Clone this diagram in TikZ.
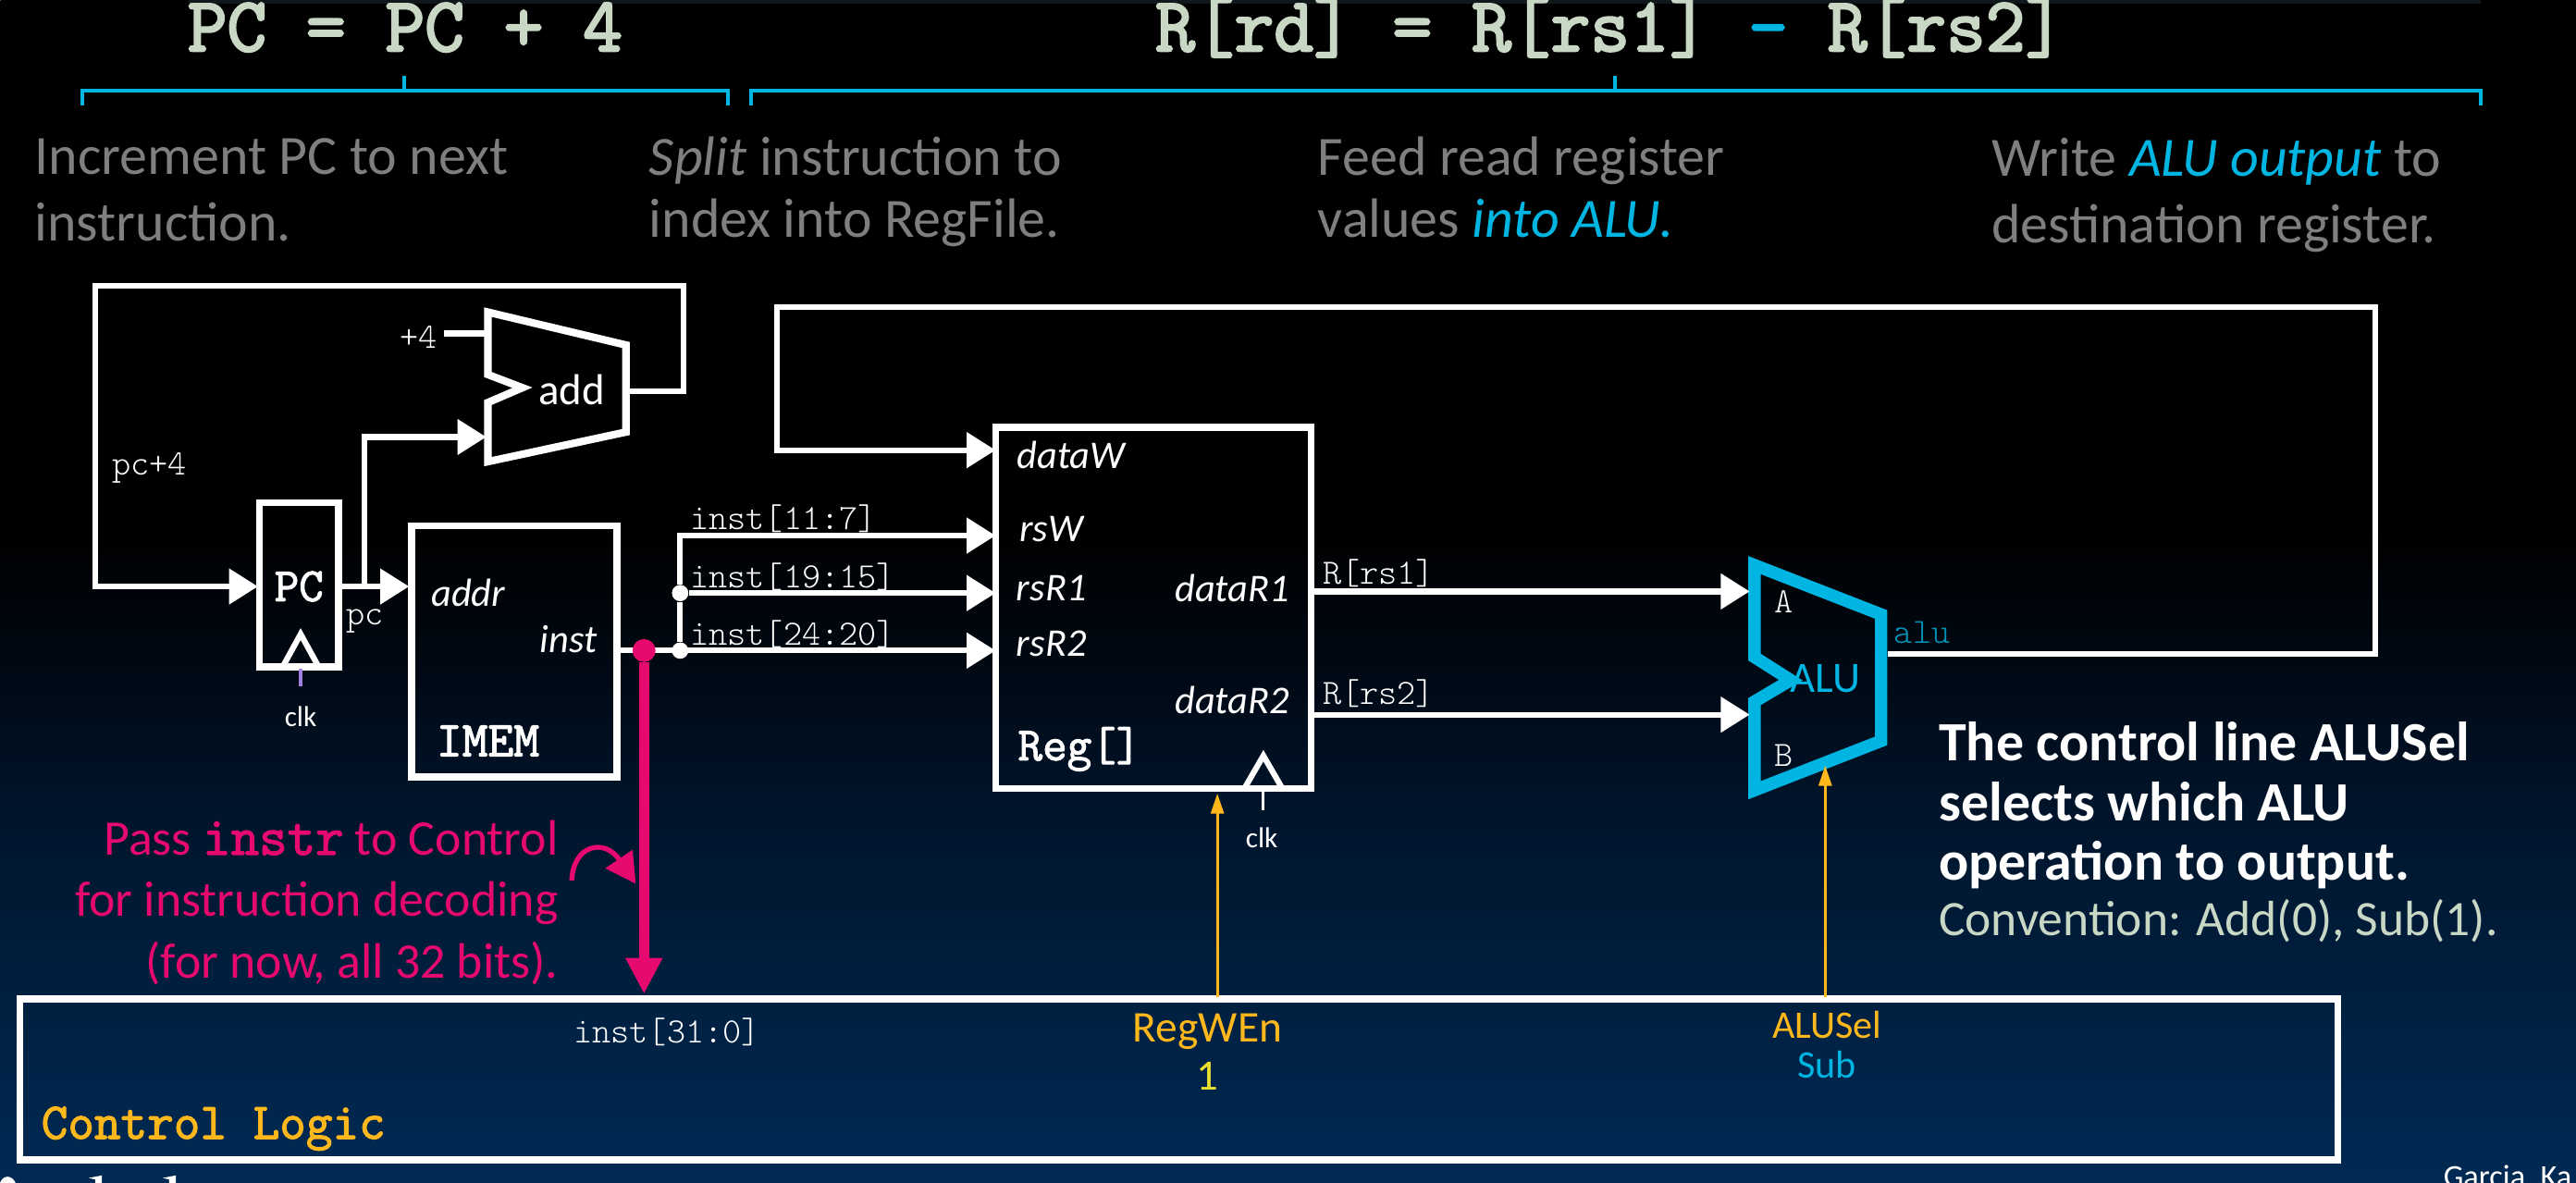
\documentclass[tikz,border=0pt]{standalone}
\usepackage{fontspec}
\setmainfont{Carlito}
\newfontfamily\codelight{Latin Modern Mono Light}
\newfontfamily\codebold[FakeBold=2.2]{Latin Modern Mono}
\newfontfamily\codeheavy[FakeBold=3]{Latin Modern Mono}
\usetikzlibrary{arrows.meta,calc}
\definecolor{wirecyan}{HTML}{00B5E2}
\definecolor{dimcyan}{HTML}{0095B8}
\definecolor{pinkish}{HTML}{E6096E}
\definecolor{goldish}{HTML}{FFB81C}
\definecolor{palegreen}{HTML}{C9D8C5}
\definecolor{midgray}{HTML}{7F7F7F}
\definecolor{navyend}{HTML}{002A54}
\definecolor{navyb}{HTML}{001F3F}
\definecolor{navyc}{HTML}{00152C}
\definecolor{navyd}{HTML}{000812}
\definecolor{clkpurple}{HTML}{A080E0}
\definecolor{topband}{HTML}{11181C}
\pgfdeclareverticalshading{slidebg}{100bp}{
    color(0bp)=(navyend);
    color(25bp)=(navyend);
    color(33.3bp)=(navyb);
    color(40.3bp)=(navyc);
    color(47.2bp)=(navyd);
    color(52.8bp)=(black);
    color(100bp)=(black)
}
\begin{document}
\begin{tikzpicture}[
    x = 0.02cm, y = -0.02cm,
    wire/.style = {draw = white, line width = 2pt},
    arrow/.style = {wire, -{Triangle[length = 10pt, width = 12pt]}},
    block/.style = {draw = white, line width = 2.4pt, inner sep = 0pt, outer sep = 0pt},
    port/.style = {font = \fontsize{13.6}{16}\selectfont\itshape, text = white},
    code/.style = {font = \fontsize{12.3}{14}\selectfont\codelight, text = white},
    heavy/.style = {font = \fontsize{16.5}{18}\selectfont\codebold, text = white},
    equation/.style = {font = \fontsize{26.6}{28}\selectfont\codeheavy, text = palegreen, anchor = base},
    note/.style = {font = \fontsize{19.2}{23}\selectfont, text = midgray, align = left, anchor = north west},
    tightnote/.style = {font = \fontsize{19.2}{21.5}\selectfont, text = midgray, align = left, anchor = north west},
    small/.style = {font = \fontsize{10}{12}\selectfont, text = white},
    brace/.style = {draw = wirecyan, line width = 1.4pt},
    control/.style = {draw = goldish, line width = 0.9pt, -{Triangle[length = 7pt, width = 4.5pt]}}
]

% Background and page frame
\useasboundingbox (0,0) rectangle (1568,720);
\node[inner sep = 0pt, outer sep = 0pt, minimum width = 31.36cm, minimum height = 14.4cm] (page) at (784,360) {};
\shade[shading = slidebg] (page.south west) rectangle (page.north east);
\fill[topband] (115,0) rectangle (1510,2);

% Equations and braces
\node[equation] (pceq) at (246.5,31) {PC = PC + 4};
\node[equation] (rdeq) at (980,31) {R[rd] = R[rs1] \textcolor{wirecyan}{-} R[rs2]};
\draw[brace] (50,64) -- (50,55) -- (443,55) -- (443,64);
\draw[brace] (246,55) -- (246,46);
\draw[brace] (457,64) -- (457,55) -- (1510,55) -- (1510,64);
\draw[brace] (983,55) -- (983,46);

% Step notes
\node[note] (incnote) at (15,78) {Increment PC to next\\instruction.};
\node[tightnote] (splitnote) at (389,77) {\textit{Split} instruction to\\index into RegFile.};
\node[tightnote] (feednote) at (796,77) {Feed read register\\values \textcolor{wirecyan}{\textit{into ALU.}}};
\node[note] (writenote) at (1206,78) {Write \textcolor{wirecyan}{\textit{ALU output}} to\\destination register.};

% PC and adder
\node[block, minimum width = 0.96cm, minimum height = 2cm] (pc) at (182,356) {};
\node[heavy] (pctext) at (182,357) {PC};
\coordinate (adda) at (297,190);
\coordinate (addb) at (381,210);
\coordinate (addc) at (381,263);
\coordinate (addd) at (297,281);
\draw[wire, line width = 2.6pt, line join = miter] (adda) -- (addb) -- (addc) -- (addd) -- (297,245) -- (318,236) -- (297,228) -- cycle;
\node[font = \fontsize{15}{17}\selectfont, text = white] (addtext) at (348,237) {add};
\node[code] (plusfour) at (255,205) {+4};
\coordinate (fourend) at (270,203);
\coordinate (fourin) at (296,203);
\draw[wire] (fourend) -- (fourin);
\coordinate (addout) at (381,238);
\coordinate (addin) at (296,266);
\coordinate (pcin) at (157,357);
\coordinate (pcout) at (206,357);
\coordinate (imemin) at (249,357);
\draw[arrow] (addout) -- (416,238) -- (416,174) -- (58,174) -- (58,357) -- (pcin);
\draw[arrow] (pcout) -- (imemin);
\draw[arrow] (222,357) -- (222,266) -- (addin);
\node[code] (pcfour) at (91,285) {pc+4};
\node[code] (pclabel) at (222,378) {pc};
\draw[white, line width = 2pt] (172,406) -- (183,386) -- (194,406);
\coordinate (pcclk) at (183,407);
\coordinate (pcclkend) at (183,418);
\draw[clkpurple, line width = 1pt] (pcclk) -- (pcclkend);
\node[small] (clkone) at (183,436) {clk};

% IMEM
\node[block, minimum width = 2.5cm, minimum height = 3.06cm] (imem) at (313,396.5) {};
\node[port] (addr) at (285,361) {addr};
\node[port] (inst) at (346,389) {inst};
\node[heavy, font = \fontsize{17.3}{19}\selectfont\codebold] (imemtext) at (297,451) {IMEM};

% Instruction split
\coordinate (instout) at (376,396);
\coordinate (rsw) at (606,326);
\coordinate (rsone) at (606,361);
\coordinate (rstwo) at (606,396);
\node[circle, fill = white, inner sep = 0pt, minimum size = 0.2cm] (forkb) at (414,396) {};
\node[circle, fill = white, inner sep = 0pt, minimum size = 0.2cm] (forka) at (414,361) {};
\draw[arrow] (instout) -- (rstwo);
\draw[arrow] (forka) -- (rsone);
\draw[arrow] (forkb) -- (forka) -- (414,326) -- (rsw);
\node[code, anchor = west] (instrd) at (414,316) {inst[11:7]};
\node[code, anchor = west] (instone) at (414,351) {inst[19:15]};
\node[code, anchor = west] (insttwo) at (414,386) {inst[24:20]};

% Register file
\node[block, minimum width = 3.84cm, minimum height = 4.4cm] (reg) at (702,370) {};
\node[port] (dataw) at (652,277) {dataW};
\node[port] (rswtext) at (640,322) {rsW};
\node[port] (rsrone) at (640,358) {rsR1};
\node[port] (rsrtwo) at (640,392) {rsR2};
\node[port] (datarone) at (750,358) {dataR1};
\node[port] (datartwo) at (750,426) {dataR2};
\node[heavy] (regtext) at (657,456) {Reg[]};
\draw[white, line width = 2pt] (758,479) -- (769,460) -- (780,479);
\coordinate (regclk) at (769,480);
\coordinate (regclkend) at (769,493);
\draw[white, line width = 1pt] (regclk) -- (regclkend);
\node[small] (clktwo) at (768,510) {clk};

% ALU
\coordinate (alua) at (1068,344);
\coordinate (alub) at (1145,374);
\coordinate (aluc) at (1145,451);
\coordinate (alud) at (1068,481);
\draw[wirecyan, line width = 4.3pt, line join = miter] (alua) -- (alub) -- (aluc) -- (alud) -- (1068,427) -- (1090,414) -- (1068,400) -- cycle;
\node[font = \fontsize{15}{17}\selectfont, text = wirecyan] (alutext) at (1111,413) {ALU};
\node[code] (inputa) at (1086,366) {A};
\node[code] (inputb) at (1086,460) {B};
\node[code, text = dimcyan] (alulabel) at (1170,385) {alu};
\coordinate (regone) at (798,360);
\coordinate (regtwo) at (798,435);
\coordinate (aluina) at (1065,360);
\coordinate (aluinb) at (1065,435);
\draw[arrow] (regone) -- (aluina);
\draw[arrow] (regtwo) -- (aluinb);
\node[code, anchor = west] (rsonelabel) at (799,349) {R[rs1]};
\node[code, anchor = west] (rstwolabel) at (799,422) {R[rs2]};
\coordinate (aluout) at (1149,398);
\coordinate (datawin) at (606,274);
\draw[arrow] (aluout) -- (1446,398) -- (1446,187) -- (473,187) -- (473,274) -- (datawin);

% Explanation
\node[font = \fontsize{19.2}{20.8}\selectfont\bfseries, text = white, align = left, anchor = north west] (aluselnote) at (1174,433) {The control line ALUSel\\selects which ALU\\operation to output.};
\node[font = \fontsize{17.15}{20}\selectfont, text = palegreen, anchor = north west] (convnote) at (1174,541) {Convention: Add(0), Sub(1).};

% Control logic
\node[block, minimum width = 28.22cm, minimum height = 1.96cm] (ctrl) at (717.5,657) {};
\node[code] (install) at (406,628) {inst[31:0]};
\node[font = \fontsize{15.2}{18}\selectfont, text = goldish] (regwen) at (735,628) {RegWEn};
\node[font = \fontsize{15}{17}\selectfont, text = yellow!80!gray] (regwenval) at (735,655) {1};
\node[font = \fontsize{13.5}{15}\selectfont, text = goldish] (alusel) at (1112,624) {ALUSel};
\node[font = \fontsize{13.5}{15}\selectfont, text = wirecyan] (aluselval) at (1112,648) {Sub};
\node[font = \fontsize{17.8}{19}\selectfont\codebold, text = goldish, anchor = west] (ctrltext) at (19,687) {Control Logic};
\coordinate (regwenout) at (741,607);
\coordinate (regwenin) at (741,483);
\coordinate (aluselout) at (1111,607);
\coordinate (aluselin) at (1111,466);
\draw[control] (regwenout) -- (regwenin);
\draw[control] (aluselout) -- (aluselin);

% Instruction to control
\node[circle, fill = pinkish, inner sep = 0pt, minimum size = 0.28cm] (pinkdot) at (392,396) {};
\coordinate (ctrlin) at (392,605);
\draw[draw = pinkish, line width = 3.4pt, -{Triangle[length = 12.5pt, width = 12pt]}] (pinkdot) -- (ctrlin);
\node[font = \fontsize{17.25}{21.4}\selectfont, text = pinkish, align = right, anchor = north east] (passnote) at (346,493) {Pass {\codebold\fontsize{19}{21}\selectfont instr} to Control\\for instruction decoding\\(for now, all 32 bits).};
\coordinate (bendstart) at (348,536);
\coordinate (bendend) at (387,538);
\draw[draw = pinkish, line width = 1.7pt, -{Triangle[length = 10.4pt, width = 11pt]}] (bendstart) .. controls (349,514) and (368,510) .. (bendend);

% Footer, cut by the page edge
\node[font = \fontsize{11}{12}\selectfont, text = white, anchor = base west, inner sep = 0pt] (credit) at (1487,722.5) {Garcia, Ka};
\fill[white] (0,720) .. controls (2,715) and (7,715) .. (9.5,720) -- cycle;
\fill[white] (54,717) -- (62,715.5) -- (62,720) -- (58,720) -- (58,718) -- cycle;
\fill[white] (99,717) -- (107,715.5) -- (107,720) -- (103,720) -- (103,718) -- cycle;

\end{tikzpicture}
\end{document}
